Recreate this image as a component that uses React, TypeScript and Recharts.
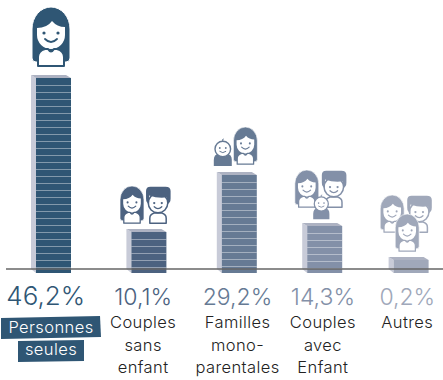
import React from 'react';
import { BarChart, Bar, XAxis, YAxis, Cell } from 'recharts';

const categories = ['Personnes seules', 'Couples sans enfant', 'Familles mono-parentales', 'Couples avec Enfant', 'Autres'];
const shares = [46.2, 10.1, 29.2, 14.3, 0.2];
const shareLabels = ['46,2%', '10,1%', '29,2%', '14,3%', '0,2%'];
const labelLines = [['Personnes', 'seules'], ['Couples', 'sans', 'enfant'], ['Familles', 'mono-', 'parentales'], ['Couples', 'avec', 'Enfant'], ['Autres']];
const colors = ['#2f5674', '#4c6280', '#667a94', '#8390a8', '#a0a8ba'];

// The bars are not proportional: the height axis is stretched between these stops
const scaleValues = [0, 0.2, 10.1, 14.3, 29.2, 46.2, 50];
const scaleHeights = [0, 12, 40, 46, 97, 194, 210];

const PLOT_HEIGHT = 269;
const BAR_NUDGE = [1, 9, 12, 10, 9];
const LABEL_NUDGE = [-4, 6, 13, 11, 8];
const FONT = 'Inter, sans-serif';

// piecewise scale with the small d3 surface Recharts asks for
const stopScale = (dom: number[] = [0, 50], rng: number[] = [PLOT_HEIGHT, 0]): any => {
  const fn: any = (v: number) => {
    let i = 0;
    while (i < scaleValues.length - 2 && v > scaleValues[i + 1]) i++;
    const t = (v - scaleValues[i]) / (scaleValues[i + 1] - scaleValues[i]);
    const h = scaleHeights[i] + t * (scaleHeights[i + 1] - scaleHeights[i]);
    return rng[0] + (h / PLOT_HEIGHT) * (rng[1] - rng[0]);
  };
  fn.domain = (d?: number[]) => (d ? stopScale(d, rng) : dom);
  fn.range = (r?: number[]) => (r ? stopScale(dom, r) : rng);
  fn.copy = () => stopScale(dom, rng);
  fn.ticks = () => dom;
  return fn;
};

const Woman = ({ x, y, s, c }: any) => (
  <g transform={`translate(${x},${y}) scale(${s})`}>
    <path d="M1,22 A19,22 0 0 1 39,22 V51 Q39,55 35,55 L5,55 Q1,55 1,51 Z" fill={c} stroke="#fff" strokeWidth={1} />
    <path d="M6,21 Q16,21 21,14 Q26,20 34,20 V28 A14,14 0 0 1 6,28 Z" fill="#fff" />
    <circle cx={13} cy={26} r={1.6} fill={c} />
    <circle cx={27} cy={26} r={1.6} fill={c} />
    <path d="M14,32 Q20,38 26,32" fill="none" stroke={c} strokeWidth={1.8} strokeLinecap="round" />
    <path d="M7,59 V50 Q7,44 14,42 L17,42 Q20,47 23,42 L26,42 Q33,44 33,50 V59 Z" fill="#fff" stroke={c} strokeWidth={2} strokeLinejoin="round" />
  </g>
);

const Man = ({ x, y, s, c }: any) => (
  <g transform={`translate(${x},${y}) scale(${s})`}>
    <path d="M7,59 V51 Q7,45 14,43 L26,43 Q33,45 33,51 V59 Z" fill="#fff" stroke={c} strokeWidth={2.4} strokeLinejoin="round" />
    <circle cx={20} cy={27} r={15.5} fill="#fff" stroke={c} strokeWidth={2.4} />
    <path d="M1,8 Q1,1 8,1 L32,1 Q40,1 40,8 L40,20 Q40,27 35,29 L34,18 Q20,20 6,15 L6,29 Q1,27 1,20 Z" fill={c} />
    <circle cx={14} cy={27} r={1.8} fill={c} />
    <circle cx={26} cy={27} r={1.8} fill={c} />
    <path d="M14,33 Q20,39 26,33" fill="none" stroke={c} strokeWidth={2} strokeLinecap="round" />
  </g>
);

const Baby = ({ x, y, s, c }: any) => (
  <g transform={`translate(${x},${y}) scale(${s})`}>
    <path d="M0,27 V21 Q0,15 5,15 L13,15 Q18,15 18,21 V27 Z" fill={c} />
    <circle cx={9} cy={10} r={7.8} fill="#fff" stroke={c} strokeWidth={1.4} />
    <circle cx={6} cy={9} r={0.9} fill={c} />
    <circle cx={12} cy={9} r={0.9} fill={c} />
    <path d="M6,12.5 Q9,15 12,12.5" fill="none" stroke={c} strokeWidth={1} strokeLinecap="round" />
    <path d="M9,2 Q8,0 10,0" fill="none" stroke={c} strokeWidth={1} />
  </g>
);

const ICONS: { kind: any; dx: number; dy: number; s: number }[][] = [
  [{ kind: Woman, dx: 0, dy: -68, s: 1 }],
  [{ kind: Woman, dx: -7, dy: -43, s: 0.63 }, { kind: Man, dx: 19, dy: -43, s: 0.63 }],
  [{ kind: Baby, dx: -3, dy: -33, s: 1 }, { kind: Woman, dx: 16, dy: -45, s: 0.63 }],
  [{ kind: Woman, dx: -8, dy: -53, s: 0.63 }, { kind: Man, dx: 19, dy: -53, s: 0.63 }, { kind: Baby, dx: 11, dy: -28, s: 0.9 }],
  [{ kind: Woman, dx: -9, dy: -62, s: 0.63 }, { kind: Man, dx: 18, dy: -62, s: 0.63 }, { kind: Woman, dx: 6, dy: -43, s: 0.63 }],
];

// Block with a lit side, a roof and window stripes, with its residents on top
const Block = (props: any) => {
  const { x, y, width, index } = props;
  const left = x + BAR_NUDGE[index];
  const c = colors[index];
  const right = left + width;
  const bottom = PLOT_HEIGHT + 4;
  const stripes: number[] = [];
  if (index < 4) for (let sy = y + 10; sy < bottom - 3; sy += 7) stripes.push(sy);
  return (
    <g>
      <polygon points={`${left},${y} ${left + 5},${y + 3} ${left + 5},${bottom} ${left},${bottom - 4}`} fill="#c8cbd8" />
      <polygon points={`${left},${y} ${right - 5},${y} ${right},${y + 3} ${left + 5},${y + 3}`} fill="#adb2c2" />
      <rect x={left + 5} y={y + 3} width={width - 5} height={bottom - y - 3} fill={c} />
      {stripes.map((sy) => (
        <rect key={sy} x={left + 5} y={sy} width={width - 5} height={1} fill="#fff" fillOpacity={0.4} />
      ))}
      {ICONS[index].map((ic, i) => {
        const Icon = ic.kind;
        return <Icon key={i} x={left + ic.dx} y={y + ic.dy} s={ic.s} c={c} />;
      })}
    </g>
  );
};

const CategoryTick = ({ x, payload, index }: any) => {
  const i = index ?? payload.index;
  const cx = x + LABEL_NUDGE[i];
  const big = i === 0;
  return (
    <g fontFamily={FONT}>
      <text x={cx} y={305} textAnchor="middle" fontSize={big ? 26 : 23} fontWeight={300} fill={colors[i]}>
        {shareLabels[i]}
      </text>
      {big && (
        <>
          <polygon points="1,318 100,316 101,337 1,339" fill={colors[0]} />
          <polygon points="18,341 84,340 84,361 18,362" fill={colors[0]} />
        </>
      )}
      {labelLines[i].map((line, k) => (
        <text
          key={line}
          x={big ? 51 : cx}
          y={big ? 333 + k * 22 : 328 + k * 22.5}
          textAnchor="middle"
          fontSize={16.5}
          fontWeight={300}
          letterSpacing={0.4}
          fill={big ? '#fff' : '#222'}
        >
          {line}
        </text>
      ))}
    </g>
  );
};

const data = categories.map((name, i) => ({ name, share: shares[i] }));

export default function App() {
  return (
    <div style={{ position: 'absolute', left: 0, top: 0 }}>
      <BarChart width={443} height={380} data={data} margin={{ top: 0, right: 0, left: 6, bottom: 0 }} barCategoryGap={0}>
        <XAxis
          dataKey="name"
          height={111}
          interval={0}
          tickLine={false}
          axisLine={{ stroke: '#666', strokeWidth: 1.5 }}
          tick={<CategoryTick />}
        />
        <YAxis hide width={0} domain={[0, 50]} scale={stopScale()} />
        <Bar dataKey="share" barSize={40} isAnimationActive={false} shape={<Block />}>
          {data.map((d, i) => (
            <Cell key={d.name} fill={colors[i]} />
          ))}
        </Bar>
      </BarChart>
    </div>
  );
}
